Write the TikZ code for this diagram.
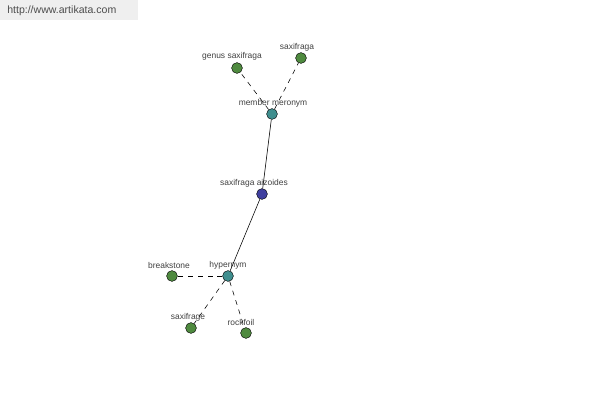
\documentclass[tikz,border=0pt]{standalone}
\usepackage{fontspec}
\setmainfont{Liberation Sans}
\usetikzlibrary{positioning}

\begin{document}
\begin{tikzpicture}[x=0.025cm, y=-0.025cm,
    word/.style={circle, draw=black, line width=0.3pt, minimum size=0.27cm, inner sep=0pt},
    lbl/.style={font=\fontsize{6}{7}\selectfont, text=black!75, inner sep=1pt},
    weak/.style={dashed, dash pattern=on 3.5pt off 3.5pt, line width=0.4pt},
    strong/.style={line width=0.4pt}]
    % Colors
    \definecolor{leafCol}{HTML}{4F8A3F}
    \definecolor{hubCol}{HTML}{3F8E8E}
    \definecolor{rootCol}{HTML}{3F3F9F}
    \definecolor{bannerCol}{HTML}{EFEFEF}

    \useasboundingbox (0,0) rectangle (600,400);

    % 1. Banner
    \fill[bannerCol] (0,0) rectangle (138,20);
    \node[font=\fontsize{7.5}{9}\selectfont, text=black!70, anchor=west, inner sep=0pt] (url) at (7,11) {http://www.artikata.com};

    % 2. Central word and relation hubs
    \node[word, fill=rootCol] (root) at (262,194) {};
    \node[word, fill=hubCol] (mero) at (272,114) {};
    \node[word, fill=hubCol] (hyper) at (228,276) {};

    % 3. Leaves
    \node[word, fill=leafCol] (genus) at (237,68) {};
    \node[word, fill=leafCol] (saxa) at (301,58) {};
    \node[word, fill=leafCol] (breaks) at (172,276) {};
    \node[word, fill=leafCol] (saxe) at (191,328) {};
    \node[word, fill=leafCol] (rock) at (246,333) {};

    % 4. Labels
    \node[lbl] (rootL) at (254,183) {saxifraga aizoides};
    \node[lbl] (meroL) at (273,103) {member meronym};
    \node[lbl] (hyperL) at (228,265) {hypernym};
    \node[lbl] (genusL) at (232,56) {genus saxifraga};
    \node[lbl] (saxaL) at (297,47) {saxifraga};
    \node[lbl] (breaksL) at (169,265) {breakstone};
    \node[lbl] (saxeL) at (188,317) {saxifrage};
    \node[lbl] (rockL) at (241,322) {rockfoil};

    % 5. Connectors
    \draw[strong] (mero) -- (root);
    \draw[strong] (root) -- (hyper);
    \foreach \leaf in {genus, saxa} {
        \draw[weak] (mero) -- (\leaf);
    }
    \foreach \leaf in {breaks, saxe, rock} {
        \draw[weak] (hyper) -- (\leaf);
    }
\end{tikzpicture}
\end{document}
